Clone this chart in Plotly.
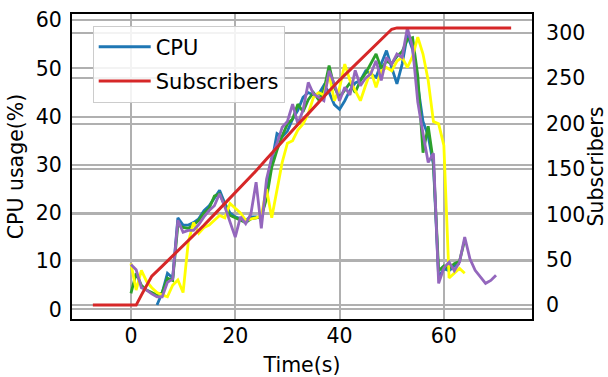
import plotly.graph_objects as go

# CPU usage (%) sampled once per second for four runs
t_blue = list(range(5, 64))
cpu_blue = [0.9, 3.5, 7.5, 6.5, 19.0, 17.5, 17.5, 18.0, 18.8, 20.5,
            21.5, 23.0, 24.7, 22.0, 20.0, 19.2, 18.8, 18.5, 19.2, 19.2,
            19.0, 24.0, 30.5, 36.5, 35.8, 37.0, 39.5, 41.3, 44.0, 45.0,
            44.5, 44.7, 46.5, 45.0, 42.5, 41.5, 43.3, 45.5, 47.0, 47.5,
            49.5, 48.8, 48.2, 51.0, 53.7, 50.2, 46.8, 50.9, 57.0, 54.0,
            46.0, 39.0, 36.0, 30.0, 6.5, 8.5, 8.0, 9.0, 9.5]

t_green = list(range(0, 65))
cpu_green = [3.3, 7.5, 5.0, 4.0, 3.5, 3.0, 3.5, 6.5, 6.0, 17.5,
             17.0, 16.8, 17.5, 18.5, 20.0, 21.0, 23.5, 24.0, 21.5, 19.5,
             19.0, 18.5, 18.0, 18.8, 19.0, 19.2, 23.0, 29.5, 33.0, 36.0,
             38.5, 39.5, 42.6, 41.0, 43.5, 45.0, 43.5, 45.5, 50.6, 46.1,
             44.0, 45.5, 47.0, 45.0, 47.5, 49.0, 51.0, 53.0, 50.0, 51.5,
             51.0, 52.5, 53.5, 56.0, 56.4, 48.5, 32.5, 38.0, 30.5, 8.0,
             9.0, 8.5, 9.5, 10.0, 14.4]

t_yellow = list(range(0, 65))
cpu_yellow = [9.5, 4.0, 8.1, 5.8, 4.5, 3.5, 3.0, 2.6, 5.0, 6.1,
              3.5, 14.0, 18.0, 15.8, 17.0, 17.5, 18.5, 19.5, 19.0, 22.0,
              21.0, 20.0, 18.5, 18.8, 19.0, 19.5, 25.0, 19.0, 24.5, 30.5,
              34.5, 35.0, 37.2, 38.5, 40.6, 44.0, 45.0, 44.5, 48.8, 43.3,
              46.0, 50.9, 47.5, 45.5, 43.3, 46.5, 49.5, 46.1, 49.5, 50.2,
              49.5, 51.5, 52.3, 50.2, 52.5, 56.5, 53.0, 47.5, 39.0, 38.5,
              34.0, 6.5, 7.5, 8.5, 7.5]

t_purple = list(range(0, 71))
cpu_purple = [9.3, 8.2, 4.5, 4.0, 3.2, 2.6, 2.6, 5.6, 6.3, 18.5,
              16.0, 16.4, 16.4, 17.6, 19.2, 20.5, 21.5, 24.0, 21.3, 18.0,
              15.0, 19.2, 17.8, 19.8, 26.4, 16.8, 27.0, 31.6, 34.4, 37.8,
              39.0, 42.6, 38.5, 41.3, 47.1, 44.7, 44.0, 43.3, 49.5, 46.8,
              43.3, 46.1, 44.5, 49.6, 46.4, 48.0, 48.9, 51.6, 47.5, 52.3,
              50.9, 53.0, 52.3, 58.4, 54.4, 43.0, 36.5, 30.5, 32.4, 5.4,
              8.6, 9.8, 8.0, 9.8, 15.0, 10.5, 8.1, 6.8, 5.4, 6.0,
              7.1]

# Connected subscribers over time
t_subs = [-7.3, 1, 2, 3, 4, 6, 8, 10, 12, 14, 16, 18, 20, 22, 24, 26, 28,
          30, 32, 34, 36, 38, 40, 42, 44, 46, 48, 50, 51, 72.9]
subs = [0, 0, 11, 22, 32, 43, 54, 65, 76, 88, 100, 112, 123, 135, 148, 161,
        174, 187, 199, 211, 224, 236, 248, 259, 270, 281, 292, 304, 305.5,
        305.5]

x_ticks = [0, 20, 40, 60]
cpu_ticks = [0, 10, 20, 30, 40, 50, 60]
subs_ticks = [0, 50, 100, 150, 200, 250, 300]

FONT = "DejaVu Sans"
GRID = "#b0b0b0"
FS = 20.5

fig = go.Figure()

cpu_series = [
    (t_blue, cpu_blue, "#1f77b4", True),
    (t_green, cpu_green, "#2ca02c", False),
    (t_yellow, cpu_yellow, "#ffff00", False),
    (t_purple, cpu_purple, "#9467bd", False),
]
for t, v, color, show in cpu_series:
    fig.add_trace(go.Scatter(
        x=t, y=v, mode="lines", name="CPU", showlegend=show,
        legendgroup="cpu",
        line=dict(color=color, width=2.8), yaxis="y",
    ))

fig.add_trace(go.Scatter(
    x=t_subs, y=subs, mode="lines", name="Subscribers",
    legendgroup="subs",
    line=dict(color="#d62728", width=3), yaxis="y2",
))

axis_common = dict(
    showgrid=True, gridcolor=GRID, gridwidth=1.6,
    showline=True, linecolor="black", linewidth=2,
    zeroline=False, ticks="", automargin=False,
    tickfont=dict(family=FONT, size=FS, color="black"),
)

fig.update_layout(
    width=608, height=377,
    margin=dict(l=72, r=76, t=14, b=58, pad=0),
    paper_bgcolor="white", plot_bgcolor="white",
    font=dict(family=FONT, size=FS, color="black"),
    xaxis=dict(
        range=[-11.3, 76.9], tickvals=x_ticks, mirror=True,
        ticklabelstandoff=-3,
        title=dict(text="Time(s)", font=dict(family=FONT, size=FS), standoff=12),
        **axis_common,
    ),
    yaxis=dict(
        range=[-2.0, 61.3], tickvals=cpu_ticks, mirror=True,
        ticklabelstandoff=4,
        title=dict(text="CPU usage(%)", font=dict(family=FONT, size=FS), standoff=7),
        **axis_common,
    ),
    yaxis2=dict(
        range=[-15.3, 320.8], tickvals=subs_ticks, overlaying="y", side="right",
        ticklabelstandoff=8,
        title=dict(text="Subscribers", font=dict(family=FONT, size=FS), standoff=9),
        **axis_common,
    ),
    legend=dict(
        x=0.045, y=0.962, xanchor="left", yanchor="top",
        bgcolor="rgba(255,255,255,0.85)", bordercolor="#cccccc", borderwidth=1,
        font=dict(family=FONT, size=21), tracegroupgap=4, itemwidth=52,
    ),
)

fig.write_html("out.html")
